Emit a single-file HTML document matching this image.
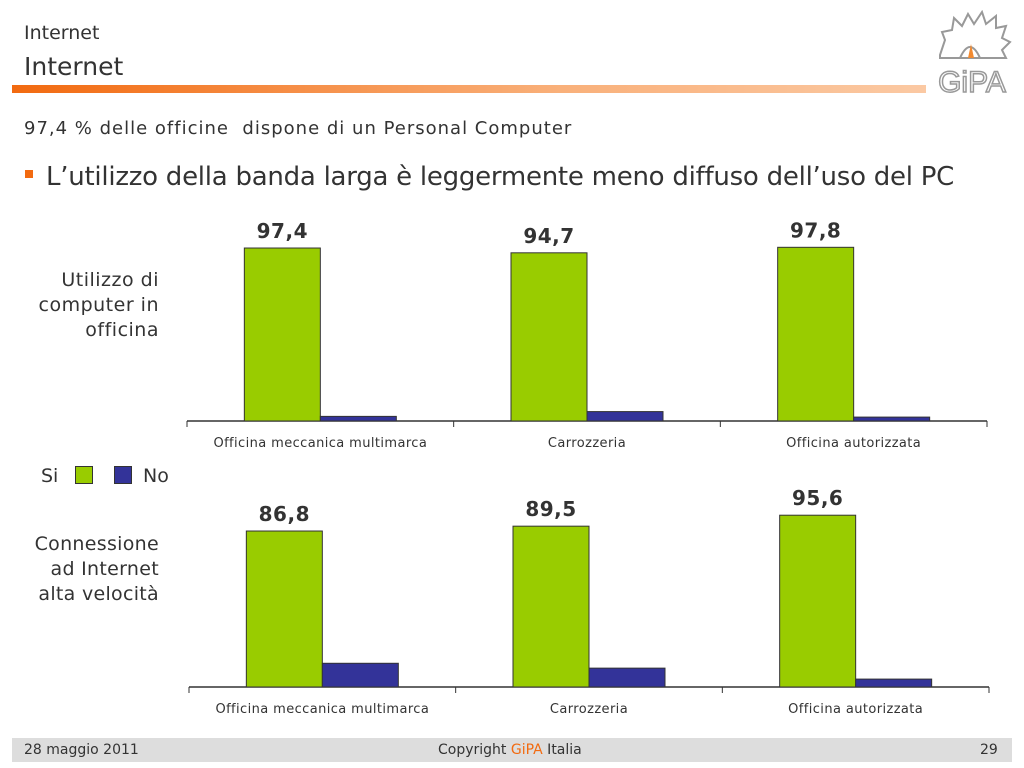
<!DOCTYPE html>
<html><head><meta charset="utf-8"><style>
body{margin:0;width:1024px;height:768px;background:#fff;font-family:"DejaVu Sans","Liberation Sans",sans-serif;position:relative;overflow:hidden}
.abs{position:absolute}
</style></head><body>
<div class="abs" style="left:24px;top:22px;font-size:19px;color:#333">Internet</div>
<div class="abs" style="left:24px;top:52px;font-size:25px;color:#333">Internet</div>
<div class="abs" style="left:12px;top:85px;width:914px;height:8px;background:linear-gradient(to right,#f26a10,#f9b07a 60%,#fbc9a3)"></div>
<svg class="abs" style="left:930px;top:10px" width="84" height="86" viewBox="0 0 84 86">
<path d="M10 45 L15 30 L12 22 L22 20 L24 8 L32 16 L38 4 L44 14 L52 2 L56 14 L66 6 L66 18 L76 16 L72 28 L80 32 L72 40 L76 48 L10 48 Z" fill="none" stroke="#999" stroke-width="2"/>
<path d="M30 48 Q40 26 50 48" fill="none" stroke="#999" stroke-width="2"/>
<path d="M38 48 L41 34 L44 48Z" fill="#f28a30"/>
<text x="42" y="82" text-anchor="middle" font-size="30" font-family="Liberation Sans" fill="#fff" stroke="#999" stroke-width="1.5">GiPA</text>
</svg>
<div class="abs" style="left:24px;top:118px;font-size:18px;letter-spacing:1px;color:#333">97,4 % delle officine&nbsp; dispone di un Personal Computer</div>
<div class="abs" style="left:25px;top:170px;width:8px;height:8px;background:#f26a10"></div>
<div class="abs" style="left:46px;top:162px;font-size:26px;letter-spacing:-0.25px;color:#333">L’utilizzo della banda larga è leggermente meno diffuso dell’uso del PC</div>
<div class="abs" style="left:10px;top:268px;width:149px;text-align:right;font-size:19px;letter-spacing:0.5px;line-height:25px;color:#333">Utilizzo di computer in officina</div>
<div class="abs" style="left:10px;top:532px;width:149px;text-align:right;font-size:19px;letter-spacing:0.3px;line-height:25px;color:#333">Connessione ad Internet alta velocità</div>
<div class="abs" style="left:41px;top:465px;font-size:19px;color:#333">Si</div>
<div class="abs" style="left:75px;top:466px;width:16px;height:16px;background:#99cc00;border:1px solid #333"></div>
<div class="abs" style="left:114px;top:466px;width:16px;height:16px;background:#333399;border:1px solid #333"></div>
<div class="abs" style="left:143px;top:465px;font-size:19px;color:#333">No</div>
<svg class="abs" id="charts" style="left:0;top:0" width="1024" height="768"></svg>
<div class="abs" style="left:12px;top:738px;width:1000px;height:24px;background:#ddd"></div>
<div class="abs" style="left:24px;top:742px;font-size:14px;color:#333">28 maggio 2011</div>
<div class="abs" style="left:438px;top:742px;font-size:14px;color:#333">Copyright <span style="color:#f26a10">GiPA</span> Italia</div>
<div class="abs" style="left:980px;top:742px;font-size:14px;color:#333">29</div>
<script>
const categories=["Officina meccanica multimarca","Carrozzeria","Officina autorizzata"];
const pcSi=[97.4,94.7,97.8];
const pcNo=[2.6,5.3,2.2];
const netSi=[86.8,89.5,95.6];
const netNo=[13.2,10.5,4.4];
const svg=document.getElementById('charts');
const NS='http://www.w3.org/2000/svg';
function mk(t,a){const e=document.createElementNS(NS,t);for(const k in a)e.setAttribute(k,a[k]);svg.appendChild(e);return e;}
function chart(x0,base,pxPer,si,no,prefix){
 const w=800,gw=w/3;
 const yS=v=>base-v*pxPer;
 const ax=mk('line',{x1:x0,x2:x0+w,y1:base,y2:base,stroke:'#333','stroke-width':1.5});
 
 
 for(let i=0;i<=3;i++){const t=mk('line',{x1:x0+i*gw,x2:x0+i*gw,y1:base,y2:base+6,stroke:'#333'});
  
  }
 categories.forEach((c,i)=>{
  const cx=x0+gw*i+gw/2;
  const b1=mk('rect',{x:cx-76,y:yS(si[i]),width:76,height:si[i]*pxPer,fill:'#99cc00',stroke:'#333'});
  
  
  const b2=mk('rect',{x:cx,y:yS(no[i]),width:76,height:no[i]*pxPer,fill:'#333399',stroke:'#333'});
  
  
  const v=mk('text',{x:cx-38,y:yS(si[i])-10,'text-anchor':'middle','font-size':20,'font-weight':'bold',fill:'#333','font-family':'DejaVu Sans','letter-spacing':'0.5'});
  v.textContent=String(si[i]).replace('.',',');
  
  
  const l=mk('text',{x:cx,y:base+26,'text-anchor':'middle','font-size':13,fill:'#333','font-family':'DejaVu Sans','letter-spacing':'0.4'});
  l.textContent=c;
  
  
 });
}
chart(187,421,1.776,pcSi,pcNo,'pc-chart');
chart(189,687,1.797,netSi,netNo,'internet-chart');
</script>
</body></html>
